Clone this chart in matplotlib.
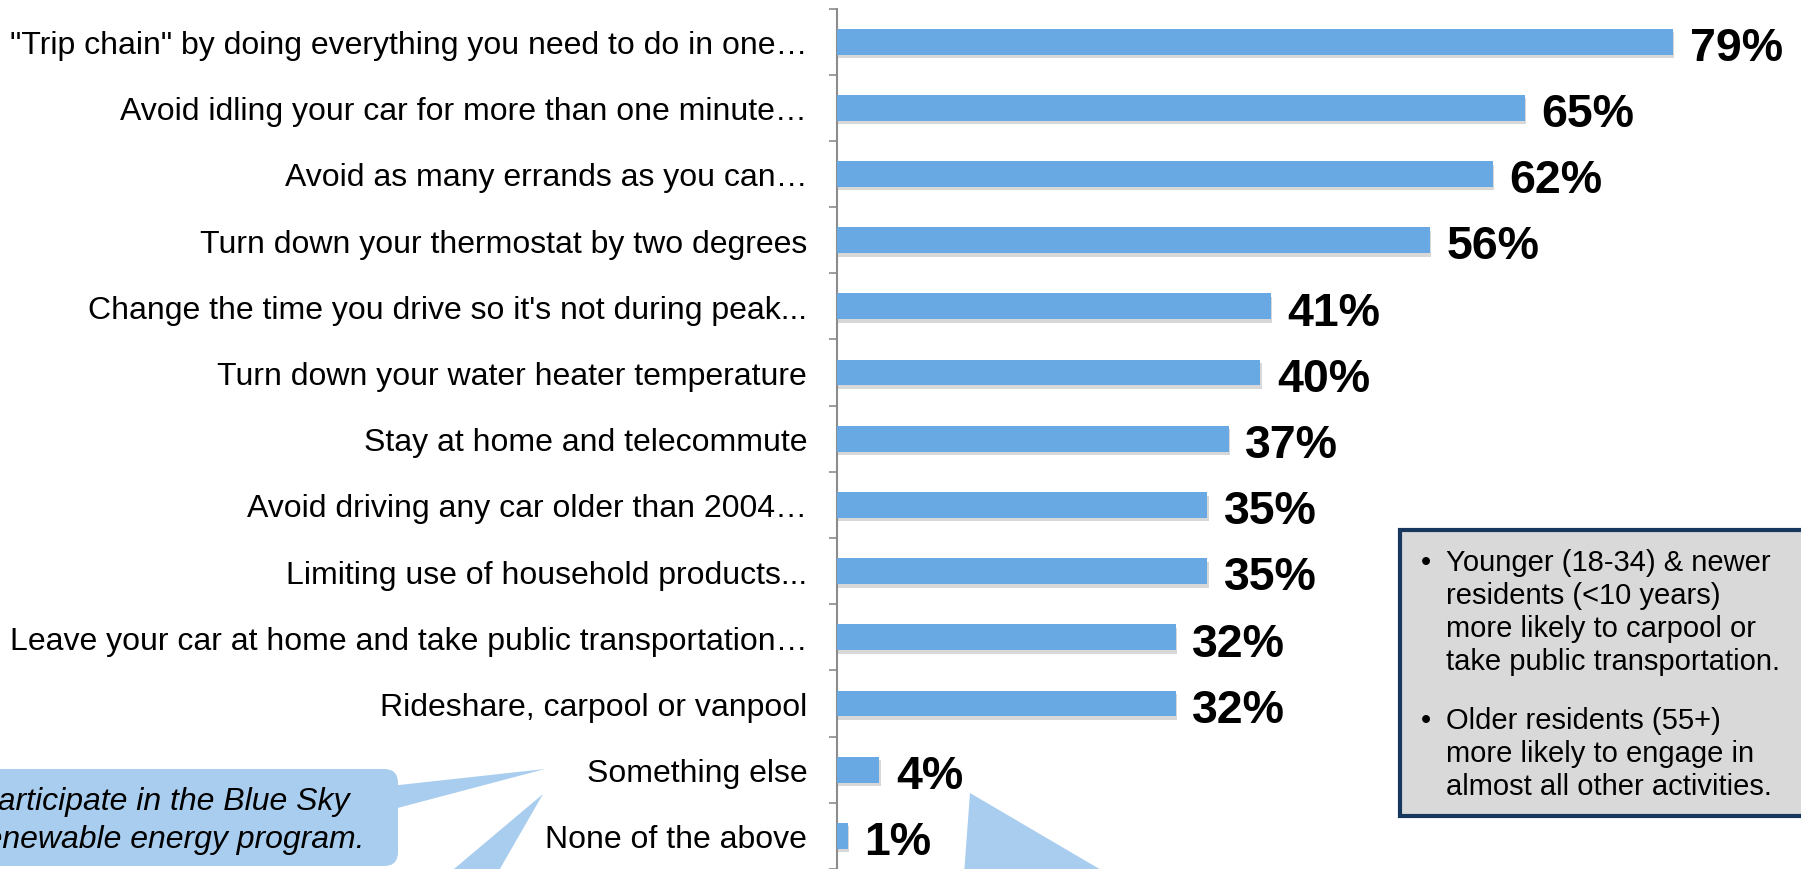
import matplotlib
matplotlib.use("Agg")
import matplotlib.pyplot as plt
import matplotlib.patheffects as pe
from matplotlib.patches import FancyBboxPatch, Polygon, Rectangle
from matplotlib.transforms import Affine2D
import numpy as np

plt.rcParams['font.family'] = ['Liberation Sans', 'DejaVu Sans']

activities = [
    '"Trip chain" by doing everything you need to do in one\u2026',
    'Avoid idling your car for more than one minute\u2026',
    'Avoid as many errands as you can\u2026',
    'Turn down your thermostat by two degrees',
    "Change the time you drive so it's not during peak...",
    'Turn down your water heater temperature',
    'Stay at home and telecommute',
    'Avoid driving any car older than 2004\u2026',
    'Limiting use of household products...',
    'Leave your car at home and take public transportation\u2026',
    'Rideshare, carpool or vanpool',
    'Something else',
    'None of the above',
]
pct = [79, 65, 62, 56, 41, 40, 37, 35, 35, 32, 32, 4, 1]

note_lines = [
    ['Younger (18-34) & newer', 'residents (<10 years)',
     'more likely to carpool or', 'take public transportation.'],
    ['Older residents (55+)', 'more likely to engage in',
     'almost all other activities.'],
]
callout_lines = ['participate in the Blue Sky', 'renewable energy program.']

W, H = 1801, 870
fig = plt.figure(figsize=(W / 100, H / 100), dpi=100)
ax = fig.add_axes([837 / W, 0.0, 1 - 837 / W, 1 - 9.5 / H])

bar_col = '#69A9E3'
y = np.arange(len(activities))
bars = ax.barh(y, pct, height=0.39, color=bar_col, zorder=3)
for b in bars:
    b.set_path_effects([pe.SimplePatchShadow(offset=(1, -2.5), shadow_rgbFace='#666666', alpha=0.25),
                        pe.Normal()])

for yi, v in zip(y, pct):
    ax.annotate(f'{v}%', (v, yi), xytext=(12, -4.5), textcoords='offset points',
                va='center', ha='left', fontsize=33.5, fontweight='bold', color='black')

ax.set_xlim(0, 91.1)
ax.set_ylim(len(activities) - 0.5, -0.5)
ax.set_xticks([])
ax.set_yticks(y)
ax.set_yticklabels(activities, fontsize=23)
ax.set_yticks(np.arange(len(activities) + 1) - 0.5, minor=True)
ax.tick_params(axis='y', which='major', length=0, pad=21.5)
ax.tick_params(axis='y', which='minor', length=5.8, width=1.2, color='#8C8C8C')
for s in ['top', 'right', 'bottom']:
    ax.spines[s].set_visible(False)
ax.spines['left'].set_color('#8C8C8C')
ax.spines['left'].set_linewidth(1.5)

# pixel coordinates measured from the top-left corner of the figure
px = Affine2D().scale(1 / 100, -1 / 100).translate(0, H / 100) + fig.dpi_scale_trans

call_col = '#A9CDEE'
fig.add_artist(Polygon([(390, 787), (390, 811), (545, 770)], closed=True,
                       facecolor=call_col, edgecolor='none', transform=px, zorder=5))
fig.add_artist(Polygon([(448, 875), (497, 875), (543, 795)], closed=True,
                       facecolor=call_col, edgecolor='none', transform=px, zorder=5))
fig.add_artist(Polygon([(964, 875), (1108, 875), (970, 794)], closed=True,
                       facecolor=call_col, edgecolor='none', transform=px, zorder=5))
fig.add_artist(FancyBboxPatch((-30, 770), 428, 97, boxstyle='round,pad=0,rounding_size=14',
                              facecolor=call_col, edgecolor='none', transform=px, zorder=5))
fig.text(350, 802, callout_lines[0], transform=px, ha='right', va='center',
         fontsize=23, style='italic', color='black', zorder=6)
fig.text(364, 840, callout_lines[1], transform=px, ha='right', va='center',
         fontsize=23, style='italic', color='black', zorder=6)

# notes box on the right
fig.add_artist(Rectangle((1400, 531), 420, 286, facecolor='#D9D9D9', edgecolor='#17375E',
                         linewidth=3, transform=px, zorder=5))
note_y = [[563, 596, 629, 662], [721, 754, 787]]
for lines, ys in zip(note_lines, note_y):
    fig.text(1421, ys[0], '\u2022', transform=px, ha='left', va='center',
             fontsize=21, color='black', zorder=6)
    for ln, yy in zip(lines, ys):
        fig.text(1446, yy, ln, transform=px, ha='left', va='center',
                 fontsize=21, color='black', zorder=6)

fig.savefig('out.png', dpi=100)
